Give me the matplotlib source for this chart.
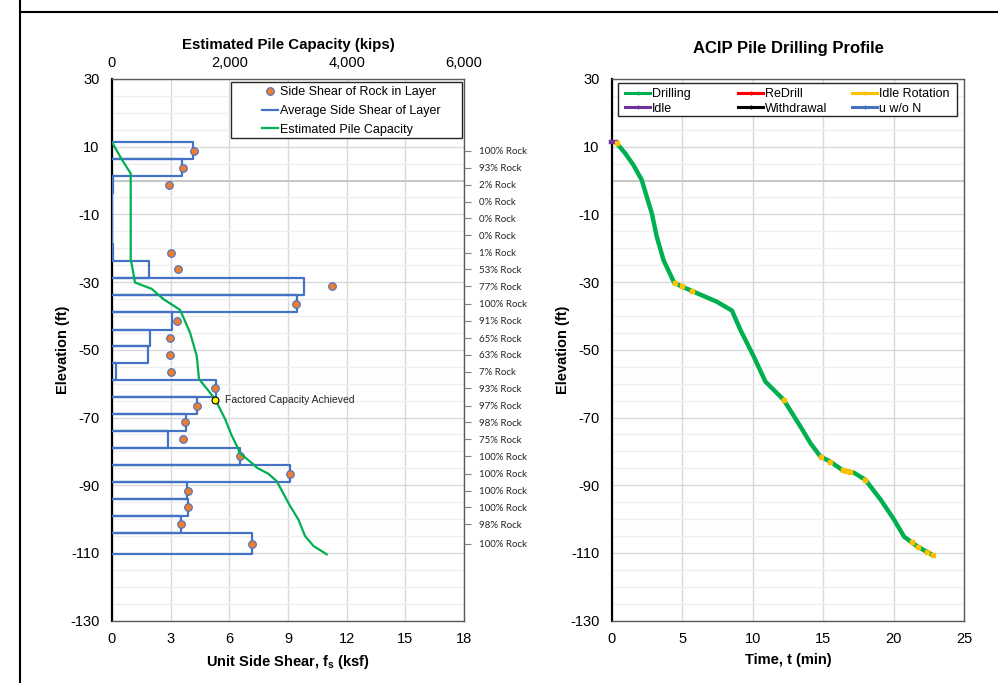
import numpy as np
import matplotlib
matplotlib.use("Agg")
import matplotlib.pyplot as plt
from matplotlib.lines import Line2D
from matplotlib.patches import Rectangle
from matplotlib.ticker import FuncFormatter, MultipleLocator, FixedLocator

plt.rcParams['font.family'] = ['Liberation Sans', 'DejaVu Sans']
plt.rcParams['mathtext.fontset'] = 'custom'
plt.rcParams['mathtext.rm'] = 'Liberation Sans'
plt.rcParams['mathtext.bf'] = 'Liberation Sans:bold'
plt.rcParams['axes.unicode_minus'] = False

# ---------------- data ----------------
# soil / rock layers (elevation, ft)
layer_tops = [11.3, 6.3, 1.3, -3.7, -8.7, -13.7, -18.7, -23.8, -28.7, -33.8,
              -38.9, -44.0, -49.0, -54.0, -58.9, -63.9, -69.0, -73.9, -79.0,
              -84.0, -89.1, -94.0, -99.0, -104.0]
layer_bottoms = layer_tops[1:] + [-110.4]

# average unit side shear of each layer (ksf)
avg_side_shear = [4.13, 3.56, 0.03, 0.0, 0.0, 0.0, 0.05, 1.87, 9.82, 9.44,
                  3.08, 1.94, 1.86, 0.2, 5.3, 4.35, 3.77, 2.88, 6.53, 9.1,
                  3.85, 3.9, 3.53, 7.16]
# side shear of the rock portion in each layer (ksf)
rock_side_shear = [4.18, 3.65, 2.91, np.nan, np.nan, np.nan, 3.0, 3.39, 11.26,
                   9.41, 3.31, 2.97, 2.97, 3.0, 5.28, 4.36, 3.75, 3.65, 6.53,
                   9.1, 3.88, 3.88, 3.53, 7.16]
rock_percent = [100, 93, 2, 0, 0, 0, 1, 53, 77, 100, 91, 65, 63, 7, 93, 97,
                98, 75, 100, 100, 100, 100, 98, 100]

# estimated pile capacity along the pile (kips vs elevation)
capacity_kips = [0, 165, 319, 319, 352, 392, 677, 875, 1160, 1330, 1444, 1483,
                 1756, 1927, 2040, 2154, 2171, 2410, 2467, 2665, 2808, 3035,
                 3177, 3291, 3433, 3660]
capacity_elev = [11.3, 6.3, 2.1, -23.2, -26.2, -30.1, -32.0, -35.0, -38.2,
                 -44.9, -51.8, -58.6, -64.5, -70.4, -75.3, -79.3, -80.4, -83.8,
                 -84.8, -86.6, -88.8, -96.1, -100.1, -105.0, -107.9, -110.4]
factored_kips = 1761
factored_elev = -64.8

# drilling record
drill_time = [0.3, 0.93, 1.52, 2.11, 2.47, 2.83, 3.18, 3.66, 4.42, 4.96, 5.79,
              7.45, 8.52, 9.12, 10.07, 10.9, 12.2, 13.39, 14.1, 14.8, 15.5,
              16.36, 17.19, 18.0, 19.09, 20.04, 20.75, 21.7, 22.77]
drill_elev = [11.2, 8.1, 4.6, 0.2, -4.8, -9.7, -16.6, -23.5, -30.2, -31.3,
              -32.8, -35.8, -38.4, -44.1, -52.0, -59.4, -64.8, -72.7, -77.6,
              -81.5, -83.0, -85.5, -86.3, -88.4, -94.3, -100.2, -105.2, -108.1,
              -110.6]
idle_time = [-0.1, 0.3]
idle_elev = [11.3, 11.3]
idle_rot_time = [0.33, 4.5, 4.95, 5.7, 12.2, 14.86, 15.5, 16.4, 16.65, 16.9,
                 18.0, 21.3, 21.7, 22.4, 22.77]
idle_rot_elev = [11.0, -30.3, -31.2, -32.7, -64.8, -81.6, -83.0, -85.5, -85.8,
                 -86.1, -88.4, -106.7, -108.1, -109.6, -110.6]

elev_ticks = [30, 10, -10, -30, -50, -70, -90, -110, -130]

# ---------------- styling ----------------
BLUE = '#4472C4'
ORANGE = '#ED7D31'
GREEN = '#00B050'
GRID_MAJ = '#D9D9D9'
GRID_MIN = '#EFEFEF'
TXT = '#262626'

fig = plt.figure(figsize=(9.98, 6.83), dpi=100)

# page border lines
fig.add_artist(Line2D([20 / 998, 20 / 998], [0, 1], transform=fig.transFigure,
                      color='black', lw=1.5))
fig.add_artist(Line2D([20 / 998, 1], [1 - 12 / 683, 1 - 12 / 683],
                      transform=fig.transFigure, color='black', lw=1.5))

ax_bottom = 1 - 620.7 / 683
ax_height = 541.7 / 683
axL = fig.add_axes([112 / 998, ax_bottom, 352 / 998, ax_height])
axR = fig.add_axes([612 / 998, ax_bottom, 352 / 998, ax_height])


def style_axes(ax):
    ax.set_ylim(-130, 30)
    ax.yaxis.set_major_locator(FixedLocator(elev_ticks))
    ax.yaxis.set_minor_locator(MultipleLocator(5))
    ax.grid(True, which='major', color=GRID_MAJ, lw=1.0)
    ax.grid(True, which='minor', axis='y', color=GRID_MIN, lw=1.0)
    ax.set_axisbelow(True)
    ax.axhline(0, color='#BFBFBF', lw=1.2, zorder=1)
    ax.tick_params(axis='both', which='both', length=0, labelsize=10.5,
                   colors='black')
    ax.tick_params(axis='x', pad=8)
    ax.tick_params(axis='y', pad=9)
    for s in ['top', 'right', 'bottom']:
        ax.spines[s].set_color('#595959')
        ax.spines[s].set_linewidth(1.0)
    ax.spines['left'].set_color('black')
    ax.spines['left'].set_linewidth(1.6)
    ax.set_ylabel('Elevation (ft)', fontsize=10.5, fontweight='bold',
                  labelpad=0)


def framed_box(ax, x0, y0, x1, y1):
    ax.add_patch(Rectangle((x0, y0), x1 - x0, y1 - y0, transform=ax.transAxes,
                           facecolor='white', edgecolor='#262626', lw=1.0,
                           zorder=8, clip_on=False))


# ---------------- left chart: side shear ----------------
style_axes(axL)
axL.set_xlim(0, 18)
axL.xaxis.set_major_locator(MultipleLocator(3))
axL.set_xlabel('Unit Side Shear, $\\mathbf{f_s}$ (ksf)', fontsize=10.5,
               fontweight='bold', labelpad=5)

# layer outlines built from the layer table
sx, sy = [], []
for top, bot, w in zip(layer_tops, layer_bottoms, avg_side_shear):
    sx += [0, w, w, 0]
    sy += [top, top, bot, bot]
axL.plot(sx, sy, color=BLUE, lw=1.6, zorder=3)

mids = [(t + b) / 2 for t, b in zip(layer_tops, layer_bottoms)]
axL.plot(rock_side_shear, mids, ls='none', marker='o', ms=5.5,
         mfc=ORANGE, mec=BLUE, mew=0.8, zorder=5)

# capacity on a secondary (top) axis
axK = axL.twiny()
axK.set_xlim(0, 6000)
axK.xaxis.set_major_locator(MultipleLocator(2000))
axK.xaxis.set_major_formatter(FuncFormatter(lambda v, p: f'{v:,.0f}'))
axK.tick_params(axis='x', length=0, labelsize=10.5, pad=6.2)
axK.set_xlabel('Estimated Pile Capacity (kips)', fontsize=10.8,
               fontweight='bold', labelpad=5)
for s in axK.spines.values():
    s.set_visible(False)
axK.plot(capacity_kips, capacity_elev, color=GREEN, lw=1.6, zorder=4)
axK.plot([factored_kips], [factored_elev], ls='none', marker='o', ms=5,
         mfc='#FFFF00', mec='black', mew=0.8, zorder=6)
axK.text(factored_kips + 160, factored_elev, 'Factored Capacity Achieved',
         fontsize=7.5, color=TXT, va='center', ha='left')

# rock percentage labels on a secondary (right) axis
axP = axL.twinx()
axP.set_ylim(-130, 30)
axP.set_yticks(mids)
axP.set_yticklabels([f'{p}% Rock' for p in rock_percent])
axP.tick_params(axis='y', direction='out', length=5, width=0.8,
                color='#7F7F7F', labelsize=7, pad=5.5, labelcolor=TXT)
for lab in axP.get_yticklabels():
    lab.set_family(['Lato', 'DejaVu Sans'])
for s in axP.spines.values():
    s.set_visible(False)

# legend box for the left chart
framed_box(axP, (231 - 112) / 352, (620.7 - 138) / 541.7,
           (462 - 112) / 352, (620.7 - 82) / 541.7)
handles = [
    Line2D([], [], ls='none', marker='o', ms=5.5, mfc=ORANGE, mec=BLUE, mew=0.8),
    Line2D([], [], color=BLUE, lw=1.6),
    Line2D([], [], color=GREEN, lw=1.6),
]
labels = ['Side Shear of Rock in Layer', 'Average Side Shear of Layer',
          'Estimated Pile Capacity']
legL = axP.legend(handles, labels, loc='upper left',
                  bbox_to_anchor=((262 - 112) / 352, (620.7 - 86) / 541.7),
                  fontsize=9, frameon=False, handlelength=1.25,
                  handletextpad=0.2, borderpad=0, labelspacing=0.55,
                  borderaxespad=0)
legL.set_zorder(9)

# ---------------- right chart: drilling profile ----------------
style_axes(axR)
axR.set_xlim(0, 25)
axR.xaxis.set_major_locator(MultipleLocator(5))
axR.set_xlabel('Time, t (min)', fontsize=10.5, fontweight='bold', labelpad=5)
axR.set_title('ACIP Pile Drilling Profile', fontsize=12, fontweight='bold',
              pad=19)

axR.plot(drill_time, drill_elev, color=GREEN, lw=3.2, zorder=3,
         solid_capstyle='round', solid_joinstyle='round')
axR.plot(idle_time, idle_elev, color='#7030A0', lw=3.2, zorder=4,
         clip_on=False)
axR.plot(idle_rot_time, idle_rot_elev, ls='none', marker='s', ms=2.6,
         mfc='#FFC000', mec='#FFC000', zorder=5)

series = [('Drilling', GREEN), ('Idle', '#7030A0'),
          ('ReDrill', '#FF0000'), ('Withdrawal', 'black'),
          ('Idle Rotation', '#FFC000'), ('u w/o N', BLUE)]
framed_box(axR, (618 - 612) / 352, (620.7 - 116) / 541.7,
           (957 - 612) / 352, (620.7 - 83) / 541.7)
col_x = [625, 738, 852]
for ci, x in enumerate(col_x):
    pair = series[2 * ci:2 * ci + 2]
    hs = [Line2D([], [], color=c, lw=2.2, marker='|', ms=3, mew=1)
          for _, c in pair]
    lg = axR.legend(hs, [n for n, _ in pair], loc='upper left',
                    bbox_to_anchor=((x - 612) / 352, (620.7 - 88) / 541.7),
                    fontsize=9, frameon=False, handlelength=2.0,
                    handletextpad=0.15, borderpad=0, labelspacing=0.2,
                    borderaxespad=0)
    lg.set_zorder(9)
    axR.add_artist(lg)
axR.legend_ = None

fig.savefig('out.png', dpi=100)
